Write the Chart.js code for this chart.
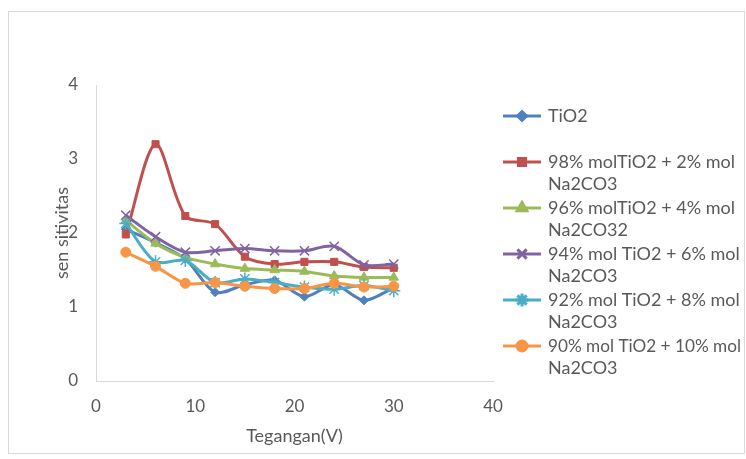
<!DOCTYPE html>
<html>
<head>
<meta charset="utf-8">
<script src="https://cdn.jsdelivr.net/npm/chart.js@4/dist/chart.umd.min.js"></script>
<style>
  html, body { margin: 0; padding: 0; background: #ffffff; }
  canvas { display: block; }
</style>
</head>
<body>
<canvas id="chart" width="746" height="459"></canvas>
<script>
// Voltage steps (V)
const tegangan = [3, 6, 9, 12, 15, 18, 21, 24, 27, 30];

// Sensitivity per composition
const tio2   = [2.05, 1.87, 1.65, 1.20, 1.30, 1.36, 1.14, 1.30, 1.09, 1.26];
const mix98  = [1.98, 3.20, 2.23, 2.12, 1.68, 1.58, 1.61, 1.61, 1.54, 1.53];
const mix96  = [2.17, 1.86, 1.67, 1.58, 1.52, 1.50, 1.48, 1.42, 1.40, 1.40];
const mix94  = [2.24, 1.95, 1.74, 1.76, 1.79, 1.76, 1.76, 1.82, 1.57, 1.58];
const mix92  = [2.13, 1.61, 1.63, 1.33, 1.38, 1.33, 1.27, 1.24, 1.29, 1.22];
const mix90  = [1.74, 1.55, 1.32, 1.33, 1.28, 1.25, 1.25, 1.32, 1.27, 1.28];

// Legend text, one entry per line of the wrapped label
const seriesLabels = [
  ["TiO2"],
  ["98% molTiO2 + 2% mol", "Na2CO3"],
  ["96% molTiO2 + 4% mol", "Na2CO32"],
  ["94% mol TiO2 + 6% mol", "Na2CO3"],
  ["92% mol TiO2 + 8% mol", "Na2CO3"],
  ["90% mol TiO2 + 10% mol", "Na2CO3"]
];

const xTicks = [0, 10, 20, 30, 40];
const yTicks = [0, 1, 2, 3, 4];

const FONT = "Lato, 'Liberation Sans', sans-serif";
const TEXT = "#595959";

const seriesValues = [tio2, mix98, mix96, mix94, mix92, mix90];
const colors = ["#4F81BD", "#C0504D", "#9BBB59", "#8064A2", "#4BACC6", "#F79646"];
const markers = ["rectRot", "rect", "triangle", "crossRot", "star", "circle"];
const radii = [4.5, 5, 5.5, 6.5, 6.5, 5];

const datasets = seriesValues.map((vals, i) => ({
  label: seriesLabels[i].join(" "),
  data: vals.map((v, k) => ({ x: tegangan[k], y: v })),
  borderColor: colors[i],
  backgroundColor: colors[i],
  borderWidth: 3,
  pointStyle: markers[i],
  pointRadius: radii[i],
  pointBorderWidth: (markers[i] === "crossRot" || markers[i] === "star") ? 1.5 : 1,
  pointBorderColor: colors[i],
  pointBackgroundColor: colors[i],
  tension: 0.3,
  fill: false,
  order: seriesValues.length - 1 - i
}));

// Frame around the whole chart area
const frame = {
  id: "frame",
  beforeDraw(chart) {
    const ctx = chart.ctx;
    ctx.save();
    ctx.fillStyle = "#ffffff";
    ctx.fillRect(0, 0, chart.width, chart.height);
    ctx.strokeStyle = "#d9d9d9";
    ctx.lineWidth = 1;
    ctx.strokeRect(8.5, 11.5, 736, 442);
    ctx.restore();
  }
};

// Legend drawn to the right of the plot with wrapped labels
const sideLegend = {
  id: "sideLegend",
  afterDraw(chart) {
    const ctx = chart.ctx;
    const x0 = 503, x1 = 541, tx = 548, maxW = 193;
    const startY = 116, pitch = 46, lineGap = 22.5;
    ctx.save();
    chart.data.datasets.forEach((ds, i) => {
      const y = startY + i * pitch;
      ctx.strokeStyle = ds.borderColor;
      ctx.lineWidth = 3;
      ctx.beginPath();
      ctx.moveTo(x0, y);
      ctx.lineTo(x1, y);
      ctx.stroke();
      ctx.fillStyle = ds.pointBackgroundColor;
      ctx.strokeStyle = ds.pointBorderColor;
      Chart.helpers.drawPoint(ctx, {
        pointStyle: ds.pointStyle,
        radius: ds.pointRadius,
        borderWidth: ds.pointBorderWidth,
        rotation: 0
      }, (x0 + x1) / 2, y);
      ctx.fillStyle = TEXT;
      ctx.font = "18px " + FONT;
      ctx.textAlign = "left";
      ctx.textBaseline = "middle";
      seriesLabels[i].forEach((line, j) => {
        ctx.fillText(line, tx, y + j * lineGap, maxW);
      });
    });
    ctx.restore();
  }
};

new Chart(document.getElementById("chart"), {
  type: "line",
  data: { datasets },
  plugins: [frame, sideLegend],
  options: {
    responsive: false,
    animation: false,
    layout: { padding: { left: 51, right: 253, top: 85, bottom: 8 } },
    plugins: { legend: { display: false }, tooltip: { enabled: false } },
    scales: {
      x: {
        type: "linear",
        min: 0, max: 40,
        afterBuildTicks(scale) { scale.ticks = xTicks.map(v => ({ value: v })); },
        afterFit(scale) { scale.height = 70; },
        grid: { display: false, drawTicks: false },
        border: { display: true, color: "#d9d9d9", width: 1 },
        ticks: { color: TEXT, padding: 15, font: { family: FONT, size: 17 }, maxRotation: 0 },
        title: { display: true, text: "Tegangan(V)", color: TEXT,
                 font: { family: FONT, size: 18 }, padding: { top: 0, bottom: 4 } }
      },
      y: {
        type: "linear",
        min: 0, max: 4,
        afterBuildTicks(scale) { scale.ticks = yTicks.map(v => ({ value: v })); },
        afterFit(scale) { scale.width = 45; },
        grid: { display: false, drawTicks: false },
        border: { display: true, color: "#d9d9d9", width: 1 },
        ticks: { color: TEXT, padding: 18, font: { family: FONT, size: 17 } },
        title: { display: true, text: "sen sitivitas", color: TEXT,
                 font: { family: FONT, size: 18 }, padding: { top: 0, bottom: 0 } }
      }
    }
  }
});
</script>
</body>
</html>
